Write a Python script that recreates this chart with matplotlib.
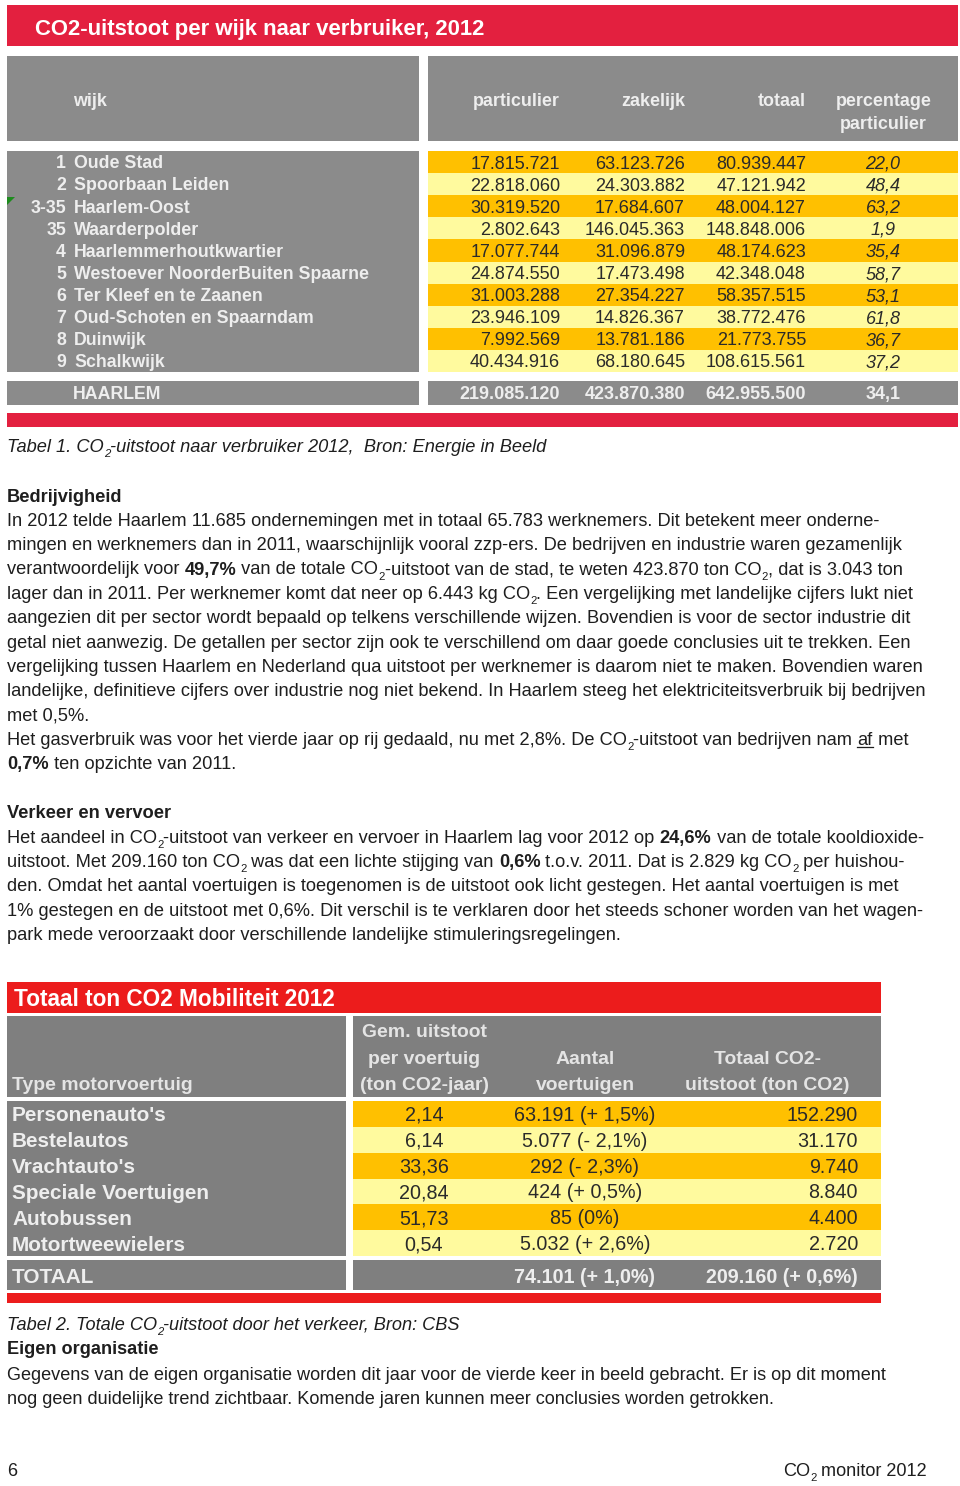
import re
import matplotlib
matplotlib.use("Agg")
import matplotlib.pyplot as plt
from matplotlib.patches import Rectangle, Polygon
from matplotlib.font_manager import FontProperties, fontManager

# ---------------- data: table 1 ----------------
wijk_nr = ["1", "2", "3-35", "35", "4", "5", "6", "7", "8", "9"]
wijk_naam = ["Oude Stad", "Spoorbaan Leiden", "Haarlem-Oost", "Waarderpolder",
             "Haarlemmerhoutkwartier", "Westoever NoorderBuiten Spaarne",
             "Ter Kleef en te Zaanen", "Oud-Schoten en Spaarndam", "Duinwijk",
             "Schalkwijk"]
particulier = [17815721, 22818060, 30319520, 2802643, 17077744,
               24874550, 31003288, 23946109, 7992569, 40434916]
zakelijk = [63123726, 24303882, 17684607, 146045363, 31096879,
            17473498, 27354227, 14826367, 13781186, 68180645]
totaal = [80939447, 47121942, 48004127, 148848006, 48174623,
          42348048, 58357515, 38772476, 21773755, 108615561]
pct_particulier = [22.0, 48.4, 63.2, 1.9, 35.4, 58.7, 53.1, 61.8, 36.7, 37.2]
haarlem_totaal = [219085120, 423870380, 642955500]
haarlem_pct = 34.1
t1_headers = ["particulier", "zakelijk", "totaal"]

# ---------------- data: table 2 ----------------
voertuig = ["Personenauto's", "Bestelautos", "Vrachtauto's",
            "Speciale Voertuigen", "Autobussen", "Motortweewielers"]
gem_uitstoot = [2.14, 6.14, 33.36, 20.84, 51.73, 0.54]
aantal = [63191, 5077, 292, 424, 85, 5032]
aantal_wijziging = [1.5, -2.1, -2.3, 0.5, 0.0, 2.6]
totaal_co2 = [152290, 31170, 9740, 8840, 4400, 2720]
aantal_totaal, aantal_totaal_wijz = 74101, 1.0
co2_totaal, co2_totaal_wijz = 209160, 0.6

# ---------------- text ----------------
body1 = [
    "In 2012 telde Haarlem 11.685 ondernemingen met in totaal 65.783 werknemers. Dit betekent meer onderne-",
    "mingen en werknemers dan in 2011, waarschijnlijk vooral zzp-ers. De bedrijven en industrie waren gezamenlijk",
    "verantwoordelijk voor **49,7%** van de totale CO^2-uitstoot van de stad, te weten 423.870 ton CO^2, dat is 3.043 ton",
    "lager dan in 2011. Per werknemer komt dat neer op 6.443 kg CO^2. Een vergelijking met landelijke cijfers lukt niet",
    "aangezien dit per sector wordt bepaald op telkens verschillende wijzen. Bovendien is voor de sector industrie dit",
    "getal niet aanwezig. De getallen per sector zijn ook te verschillend om daar goede conclusies uit te trekken. Een",
    "vergelijking tussen Haarlem en Nederland qua uitstoot per werknemer is daarom niet te maken. Bovendien waren",
    "landelijke, definitieve cijfers over industrie nog niet bekend. In Haarlem steeg het elektriciteitsverbruik bij bedrijven",
    "met 0,5%.",
    "Het gasverbruik was voor het vierde jaar op rij gedaald, nu met 2,8%. De CO^2-uitstoot van bedrijven nam __af__ met",
    "**0,7%** ten opzichte van 2011.",
]
body2 = [
    "Het aandeel in CO^2-uitstoot van verkeer en vervoer in Haarlem lag voor 2012 op **24,6%** van de totale kooldioxide-",
    "uitstoot. Met 209.160 ton CO^2 was dat een lichte stijging van **0,6%** t.o.v. 2011. Dat is 2.829 kg CO^2 per huishou-",
    "den. Omdat het aantal voertuigen is toegenomen is de uitstoot ook licht gestegen. Het aantal voertuigen is met",
    "1% gestegen en de uitstoot met 0,6%. Dit verschil is te verklaren door het steeds schoner worden van het wagen-",
    "park mede veroorzaakt door verschillende landelijke stimuleringsregelingen.",
]
body3 = [
    "Gegevens van de eigen organisatie worden dit jaar voor de vierde keer in beeld gebracht. Er is op dit moment",
    "nog geen duidelijke trend zichtbaar. Komende jaren kunnen meer conclusies worden getrokken.",
]

# ---------------- setup ----------------
W, H = 960, 1486
fig = plt.figure(figsize=(W / 100, H / 100), dpi=100)
ax = fig.add_axes([0, 0, 1, 1])
ax.set_xlim(0, W)
ax.set_ylim(H, 0)
ax.axis("off")
renderer = fig.canvas.get_renderer()

names = {f.name for f in fontManager.ttflist}
SANS = "Liberation Sans" if "Liberation Sans" in names else "DejaVu Sans"
NARROW = "Liberation Sans Narrow" if "Liberation Sans Narrow" in names else SANS

RED1 = "#E3203F"
RED2 = "#EC1C1C"
GRAY1 = "#8B8B8B"
GRAY2 = "#7F7F7F"
GOLD = "#FFC000"
LIGHT = "#FFFA9E"
HDR = "#EEEEEE"
INK = "#1E1E1E"
NUM = "#2A2A2A"
PX = 100 / 72.0


def fp(size, family=SANS, bold=False, italic=False):
    return FontProperties(family=family, size=size,
                          weight="bold" if bold else "normal",
                          style="italic" if italic else "normal")


def width(s, prop):
    w1, _, _ = renderer.get_text_width_height_descent("X" + s + "X", prop, ismath=False)
    w0, _, _ = renderer.get_text_width_height_descent("XX", prop, ismath=False)
    return w1 - w0


def parse(line):
    segs = []
    bold = under = False
    for tok in re.split(r"(\*\*|__|\^2)", line):
        if tok == "**":
            bold = not bold
        elif tok == "__":
            under = not under
        elif tok == "^2":
            segs.append(("2", bold, under, True))
        elif tok:
            segs.append((tok, bold, under, False))
    return segs


def rich_width(line, size, family, italic=False, bold=False):
    tot = 0
    for t, b, u, sub in parse(line):
        tot += width(t, fp(size * (0.62 if sub else 1), family, b or bold, italic))
    return tot


def rich(x, y, line, size, family=SANS, color=INK, italic=False, bold=False, ha="left"):
    if ha == "right":
        x -= rich_width(line, size, family, italic, bold)
    for t, b, u, sub in parse(line):
        s = size * (0.62 if sub else 1)
        p = fp(s, family, b or bold, italic)
        yy = y + (0.30 * size * PX if sub else 0)
        ax.text(x, yy, t, fontproperties=p, color=color, va="baseline", ha="left")
        w = width(t, p)
        if u:
            ax.plot([x, x + w], [y + 2.2, y + 2.2], color=color, lw=0.9)
        x += w


def fit(text, target, family=SANS, bold=False, italic=False, base=12.0):
    return base * target / rich_width(text, base, family, italic, bold)


def cell(x, y_center, text, size, color, ha="left", bold=False, italic=False, family=SANS):
    base = y_center + 0.358 * size * PX
    ax.text(x, base, text, fontproperties=fp(size, family, bold, italic),
            color=color, ha=ha, va="baseline")


def rect(x0, y0, x1, y1, color):
    ax.add_patch(Rectangle((x0, y0), x1 - x0, y1 - y0, facecolor=color, edgecolor="none"))


def nl(v):
    return f"{v:,}".replace(",", ".")


def nl1(v, d=1):
    return f"{v:.{d}f}".replace(".", ",")


def change(v):
    if v == 0:
        return "0%"
    return ("+ " if v > 0 else "- ") + nl1(abs(v)) + "%"


# ================= TABLE 1 =================
rect(7, 5, 958, 46, RED1)
s_t1 = fit("CO2-uitstoot per wijk naar verbruiker, 2012", 448, bold=True)
cell(35, 27, "CO2-uitstoot per wijk naar verbruiker, 2012", s_t1, "white", bold=True)

rect(7, 56, 419, 141, GRAY1)
rect(428, 56, 958, 141, GRAY1)
s_h1 = fit("particulier", 86, bold=True)
cell(73, 100, "wijk", s_h1, HDR, bold=True)
col_right = [560, 685, 806]
for hx, h in zip(col_right, t1_headers):
    cell(hx, 100, h, s_h1, HDR, ha="right", bold=True)
cell(836, 100, "percentage", s_h1, HDR, bold=True)
cell(840, 123, "particulier", s_h1, HDR, bold=True)

top, bot = 151, 372
n = len(wijk_naam)
rh = (bot - top) / n
rect(7, top, 419, bot, GRAY1)
s_lab1 = fit("Westoever NoorderBuiten Spaarne", 292, bold=True)
s_num1 = fit("17.815.721", 90)
for i in range(n):
    y0 = top + i * rh
    rect(428, y0, 958, y0 + rh, GOLD if i % 2 == 0 else LIGHT)
    yc = y0 + rh / 2
    cell(66, yc, wijk_nr[i], s_lab1, HDR, ha="right", bold=True)
    cell(74, yc, wijk_naam[i], s_lab1, HDR, bold=True)
    cell(col_right[0], yc, nl(particulier[i]), s_num1, NUM, ha="right")
    cell(col_right[1], yc, nl(zakelijk[i]), s_num1, NUM, ha="right")
    cell(col_right[2], yc, nl(totaal[i]), s_num1, NUM, ha="right")
    cell(883, yc, nl1(pct_particulier[i]), s_num1, NUM, ha="center", italic=True)

ax.add_patch(Polygon([[7, 197], [15, 197], [7, 205]], closed=True,
                     facecolor="#1E8C1E", edgecolor="none"))

rect(7, 381, 419, 405, GRAY1)
rect(428, 381, 958, 405, GRAY1)
cell(73, 393, "HAARLEM", s_lab1, HDR, bold=True)
for hx, v in zip(col_right, haarlem_totaal):
    cell(hx, 393, nl(v), s_num1, HDR, ha="right", bold=True)
cell(883, 393, nl1(haarlem_pct), s_num1, HDR, ha="center", bold=True)
rect(7, 413, 958, 427, RED1)

# caption & body
s_body = fit(body1[0], 875)
rich(7, 452, "Tabel 1. CO^2-uitstoot naar verbruiker 2012,  Bron: Energie in Beeld",
     s_body, italic=True)
rich(7, 501.5, "Bedrijvigheid", s_body, bold=True)
for k, line in enumerate(body1):
    rich(7, 525.8 + k * 24.35, line, s_body)
rich(7, 818.5, "Verkeer en vervoer", s_body, bold=True)
for k, line in enumerate(body2):
    rich(7, 842.6 + k * 24.35, line, s_body)

# ================= TABLE 2 =================
rect(7, 982, 881, 1013, RED2)
s_t2 = fit("Totaal ton CO2 Mobiliteit 2012", 319, bold=True)
cell(14, 998, "Totaal ton CO2 Mobiliteit 2012", s_t2, "white", bold=True)

rect(7, 1016, 346, 1097, GRAY2)
rect(353, 1016, 881, 1097, GRAY2)
s_h2 = fit("uitstoot (ton CO2)", 164, bold=True)
cell(12, 1083, "Type motorvoertuig", s_h2, "#E4E4E4", bold=True)
hdr2 = [(424, ["Gem. uitstoot", "per voertuig", "(ton CO2-jaar)"]),
        (585, ["Aantal", "voertuigen"]),
        (767, ["Totaal CO2-", "uitstoot (ton CO2)"])]
line_y = [1030, 1057, 1083]
for cx, lines in hdr2:
    for j, t in enumerate(lines):
        cell(cx, line_y[3 - len(lines) + j], t, s_h2, "#E4E4E4", ha="center", bold=True)

top2, bot2 = 1101, 1256
m = len(voertuig)
rh2 = (bot2 - top2) / m
rect(7, top2, 346, bot2, GRAY2)
s_lab2 = fit("Speciale Voertuigen", 196, bold=True)
s_num2 = fit("63.191 (+ 1,5%)", 141)
for i in range(m):
    y0 = top2 + i * rh2
    rect(353, y0, 881, y0 + rh2, GOLD if i % 2 == 0 else LIGHT)
    yc = y0 + rh2 / 2
    cell(12, yc, voertuig[i], s_lab2, "#EEEEEE", bold=True)
    cell(424, yc, nl1(gem_uitstoot[i], 2), s_num2, NUM, ha="center")
    cell(585, yc, f"{nl(aantal[i])} ({change(aantal_wijziging[i])})", s_num2, NUM, ha="center")
    cell(858, yc, nl(totaal_co2[i]), s_num2, NUM, ha="right")

rect(7, 1260, 346, 1290, GRAY2)
rect(353, 1260, 881, 1290, GRAY2)
cell(12, 1276, "TOTAAL", s_lab2, "#EEEEEE", bold=True)
cell(585, 1276, f"{nl(aantal_totaal)} ({change(aantal_totaal_wijz)})", s_num2, "#EEEEEE", ha="center", bold=True)
cell(858, 1276, f"{nl(co2_totaal)} ({change(co2_totaal_wijz)})", s_num2, "#EEEEEE", ha="right", bold=True)
rect(7, 1293, 881, 1303, RED2)

# lower text (narrow style)
s_nar = fit(body3[0], 886, family=NARROW)
rich(7, 1330, "Tabel 2. Totale CO^2-uitstoot door het verkeer, Bron: CBS", s_nar, NARROW, italic=True)
rich(7, 1354, "Eigen organisatie", s_nar, NARROW, bold=True)
for k, line in enumerate(body3):
    rich(7, 1379.5 + k * 24.35, line, s_nar, NARROW)
rich(7, 1476, "6", s_nar, NARROW)
rich(927, 1476, "CO^2 monitor 2012", s_nar, NARROW, ha="right")

fig.savefig("out.png", dpi=100)
